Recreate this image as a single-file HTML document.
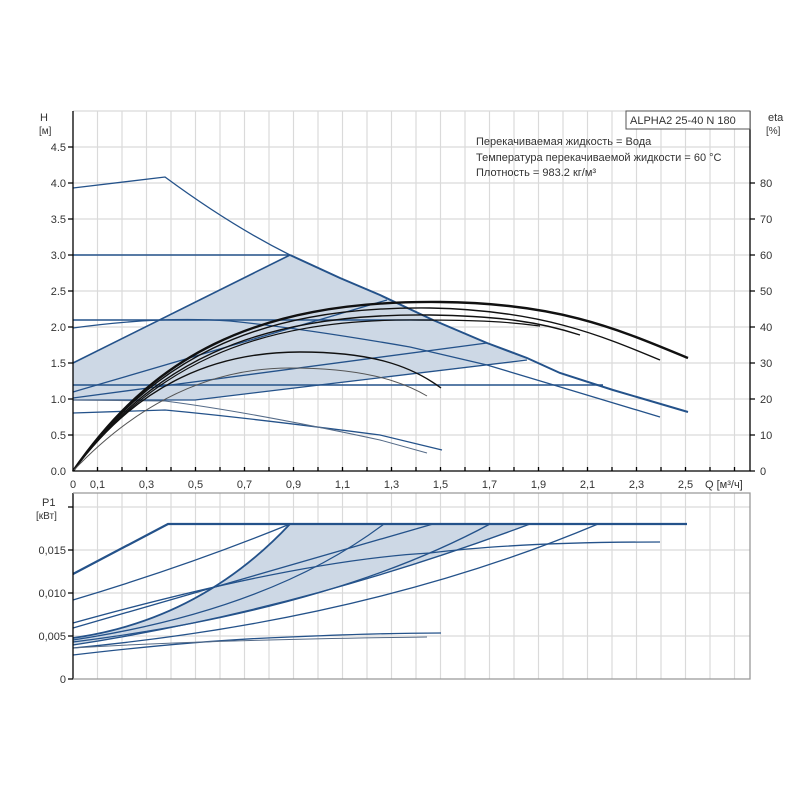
<!DOCTYPE html>
<html><head><meta charset="utf-8"><style>
html,body{margin:0;padding:0;background:#fff;}
svg{display:block;font-family:"Liberation Sans",Arial,sans-serif;font-size:11px;fill:#333;}
</style></head><body>
<svg width="800" height="800" viewBox="0 0 800 800" xmlns="http://www.w3.org/2000/svg">
<rect width="800" height="800" fill="#fff"/>
<g stroke="#dadada" stroke-width="1.2">
<path d="M97.5 111V471M122 111V471M146.5 111V471M171 111V471M195.5 111V471M220 111V471M244.5 111V471M269 111V471M293.5 111V471M318 111V471M342.5 111V471M367 111V471M391.5 111V471M416 111V471M440.5 111V471M465 111V471M489.5 111V471M514 111V471M538.5 111V471M563 111V471M587.5 111V471M612 111V471M636.5 111V471M661 111V471M685.5 111V471M710 111V471M734.5 111V471"/>
<path d="M73 147H750M73 183H750M73 219H750M73 255H750M73 291H750M73 327H750M73 363H750M73 399H750M73 435H750M73 111H750"/>
<path d="M97.5 493V679M122 493V679M146.5 493V679M171 493V679M195.5 493V679M220 493V679M244.5 493V679M269 493V679M293.5 493V679M318 493V679M342.5 493V679M367 493V679M391.5 493V679M416 493V679M440.5 493V679M465 493V679M489.5 493V679M514 493V679M538.5 493V679M563 493V679M587.5 493V679M612 493V679M636.5 493V679M661 493V679M685.5 493V679M710 493V679M734.5 493V679"/>
<path d="M73 507H750M73 550H750M73 593H750M73 636H750"/>
</g>
<path d="M73 363L290 255L340 278L380 295L433 320L487 343L527 359L195 400L73 400Z" fill="#cdd8e5"/>
<g fill="none" stroke="#24528a" stroke-width="1.3">
<path d="M73 188L165 177Q230 225 290 255" stroke-width="1.3"/>
<path d="M290 255L340 278L380 295L433 320L487 343L527 358L560 373L613 390L688 412" stroke-width="2"/>
<path d="M73 255H290M73 320H433M73 385H603" stroke-width="1.6"/>
<path d="M73 363L290 255" stroke-width="1.6"/>
<path d="M73 328Q160 316 230 321Q300 328 410 347L487 365L557 386L660 417"/>
<path d="M73 392L387 300M73 398L487 343M73 400L195 400L527 360"/>
<path d="M73 413L165 410Q250 418 380 435L442 450"/>
<path d="M73 400L165 401Q250 412 380 440L427 453" stroke="#556b88" stroke-width="1"/>
</g>
<g fill="none" stroke="#111">
<path d="M73 471C150 360 250 300 440 302C560 303 620 330 688 358" stroke-width="2.4"/>
<path d="M73 471C150 363 250 306 430 308C540 310 600 335 660 360" stroke-width="1.4"/>
<path d="M73 471C150 366 250 313 430 315C500 316 540 322 580 335" stroke-width="1.4"/>
<path d="M73 471C150 369 250 318 420 320C480 320 510 322 540 326" stroke-width="1.2"/>
<path d="M73 471C140 380 220 352 300 352C370 352 410 365 441 388" stroke-width="1.4"/>
<path d="M73 471C145 395 220 368 290 368C360 368 400 380 427 396" stroke-width="1" stroke="#555"/>
</g>
<g stroke="#000" stroke-width="1.3" fill="none">
<path d="M73 111V471H750V111"/>
<path d="M68 147H73M68 183H73M68 219H73M68 255H73M68 291H73M68 327H73M68 363H73M68 399H73M68 435H73"/>
<path d="M750 183H755M750 219H755M750 255H755M750 291H755M750 327H755M750 363H755M750 399H755M750 435H755M750 471H755"/>
<path d="M97.5 471V467M122 471V467M146.5 471V467M171 471V467M195.5 471V467M220 471V467M244.5 471V467M269 471V467M293.5 471V467M318 471V467M342.5 471V467M367 471V467M391.5 471V467M416 471V467M440.5 471V467M465 471V467M489.5 471V467M514 471V467M538.5 471V467M563 471V467M587.5 471V467M612 471V467M636.5 471V467M661 471V467M685.5 471V467M710 471V467M734.5 471V467"/>
</g>
<rect x="626" y="111" width="124" height="18" fill="#fff" stroke="#555" stroke-width="1"/>
<text x="630" y="124">ALPHA2 25-40 N 180</text>
<text x="476" y="145">Перекачиваемая жидкость = Вода</text>
<text x="476" y="161">Температура перекачиваемой жидкости = 60 °C</text>
<text x="476" y="176">Плотность = 983.2 кг/м³</text>
<text x="40" y="121">H</text><text x="39" y="134" font-size="10">[м]</text>
<text x="768" y="121">eta</text><text x="766" y="134" font-size="10">[%]</text>
<g text-anchor="end">
<text x="66" y="151">4.5</text><text x="66" y="187">4.0</text><text x="66" y="223">3.5</text><text x="66" y="259">3.0</text><text x="66" y="295">2.5</text><text x="66" y="331">2.0</text><text x="66" y="367">1.5</text><text x="66" y="403">1.0</text><text x="66" y="439">0.5</text><text x="66" y="475">0.0</text>
<text x="66" y="554">0,015</text><text x="66" y="597">0,010</text><text x="66" y="640">0,005</text><text x="66" y="683">0</text>
</g>
<g>
<text x="760" y="187">80</text><text x="760" y="223">70</text><text x="760" y="259">60</text><text x="760" y="295">50</text><text x="760" y="331">40</text><text x="760" y="367">30</text><text x="760" y="403">20</text><text x="760" y="439">10</text><text x="760" y="475">0</text>
</g>
<g text-anchor="middle">
<text x="73" y="488">0</text><text x="97.5" y="488">0,1</text><text x="146.5" y="488">0,3</text><text x="195.5" y="488">0,5</text><text x="244.5" y="488">0,7</text><text x="293.5" y="488">0,9</text><text x="342.5" y="488">1,1</text><text x="391.5" y="488">1,3</text><text x="440.5" y="488">1,5</text><text x="489.5" y="488">1,7</text><text x="538.5" y="488">1,9</text><text x="587.5" y="488">2,1</text><text x="636.5" y="488">2,3</text><text x="685.5" y="488">2,5</text>
</g>
<text x="705" y="488">Q [м³/ч]</text>
<text x="42" y="506">P1</text><text x="36" y="519" font-size="10">[кВт]</text>
<path d="M73 638Q200 620 290 524L530 524Q300 610 73 645Z" fill="#cdd8e5"/>
<g fill="none" stroke="#24528a" stroke-width="1.3">
<path d="M73 574L168 524H687" stroke-width="2.2"/>
<path d="M73 600Q190 565 290 524"/>
<path d="M73 638Q200 620 290 524" stroke-width="1.8"/>
<path d="M73 623Q300 560 430 553Q520 542 660 542"/>
<path d="M73 628L433 524"/>
<path d="M73 640Q270 610 384 524"/>
<path d="M73 642Q330 610 490 524"/>
<path d="M73 645Q300 610 530 524"/>
<path d="M73 648Q370 620 598 524"/>
<path d="M73 655Q200 640 290 637Q380 633 441 633"/>
<path d="M73 648Q200 640 427 637" stroke="#556b88" stroke-width="1"/>
</g>
<g stroke="#000" stroke-width="1.3" fill="none">
<path d="M73 493V679"/>
<path d="M68 507H73M68 550H73M68 593H73M68 636H73M68 679H73"/>
</g>
<path d="M73 493H750V679H73" fill="none" stroke="#999" stroke-width="1.3"/>
</svg>
</body></html>
